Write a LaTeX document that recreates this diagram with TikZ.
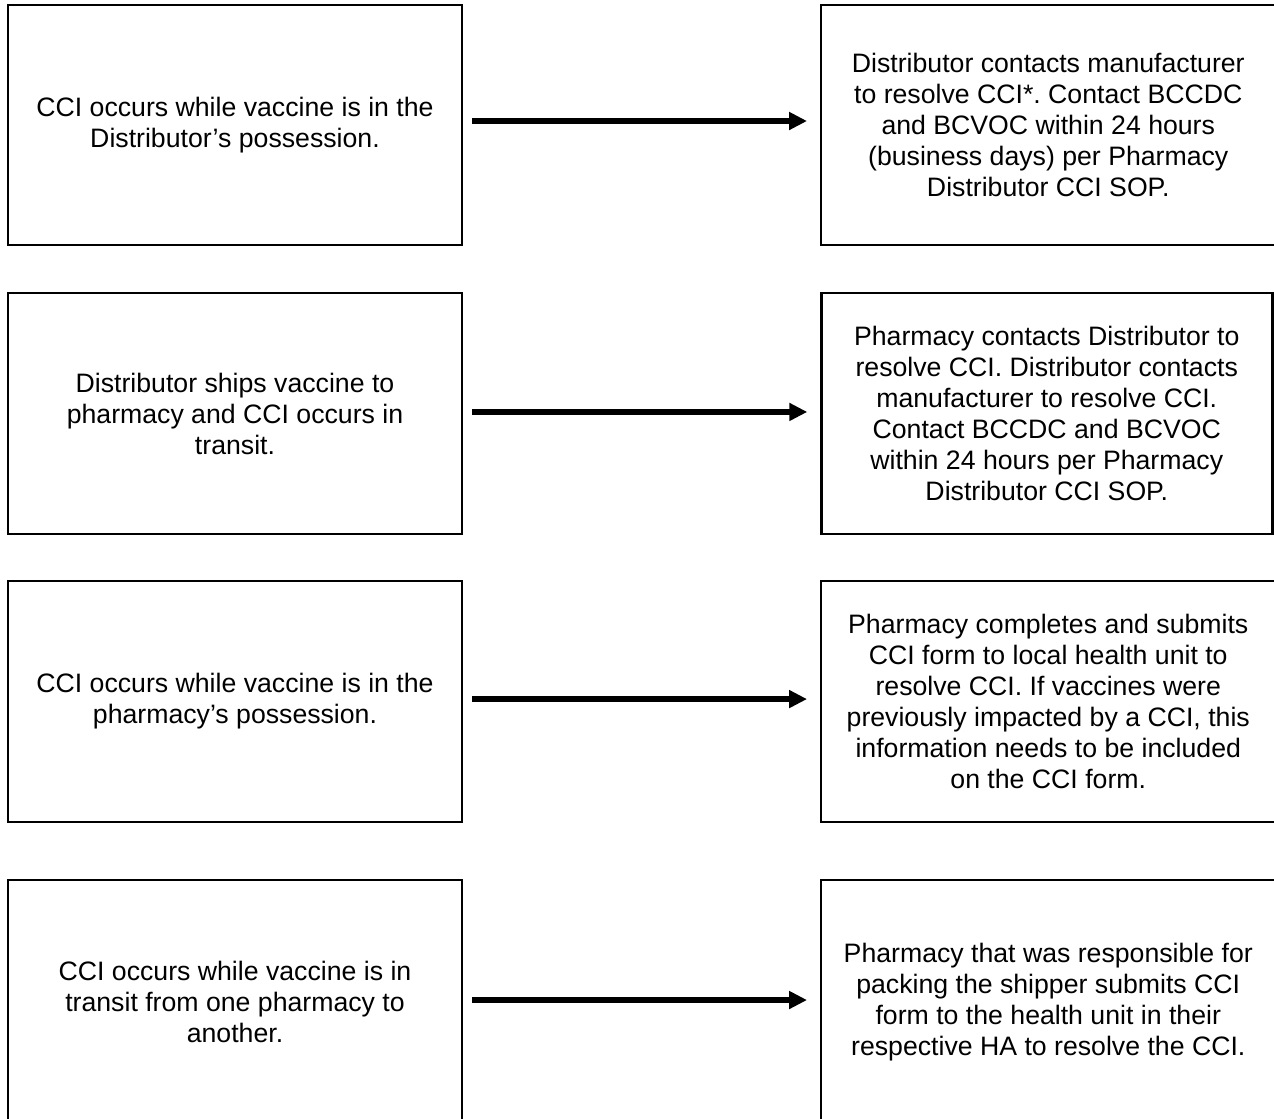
\documentclass[tikz,border=0pt]{standalone}
\usepackage{fontspec}
\setmainfont{Liberation Sans}
\usetikzlibrary{arrows.meta}
\frenchspacing
\begin{document}
\begin{tikzpicture}[x=0.45pt,y=-0.45pt,
  box/.style={draw, line width=1.2pt, align=center, inner sep=0pt, outer sep=0pt,
    font=\fontsize{12}{13.95}\selectfont},
  flow/.style={line width=2.8pt, -{Triangle[length=8.1pt,width=7.7pt]},
    shorten <=4.5pt, shorten >=6.3pt}]
\useasboundingbox (0,0) rectangle (1274,1118);
\clip (0,0) rectangle (1274,1118);
% left boxes
\node[box, minimum width=204.3pt, minimum height=108pt] (L1) at (235,125)
  {CCI occurs while vaccine is in the\\Distributor’s possession.};
\node[box, minimum width=204.3pt, minimum height=108.45pt] (L2) at (235,413.5)
  {Distributor ships vaccine to\\pharmacy and CCI occurs in\\transit.};
\node[box, minimum width=204.3pt, minimum height=108.45pt] (L3) at (235,701.5)
  {CCI occurs while vaccine is in the\\pharmacy’s possession.};
\node[box, minimum width=204.3pt, minimum height=109.8pt] (L4) at (235,1002)
  {CCI occurs while vaccine is in\\transit from one pharmacy to\\another.};
% right boxes
\node[box, minimum width=204.5pt, minimum height=108pt] (R1) at (1048.25,125)
  {Distributor contacts manufacturer\\to resolve CCI*. Contact BCCDC\\and BCVOC within 24 hours\\(business days) per Pharmacy\\Distributor CCI SOP.};
\node[box, minimum width=202.95pt, minimum height=108.45pt] (R2) at (1046.75,413.5)
  {Pharmacy contacts Distributor to\\resolve CCI. Distributor contacts\\manufacturer to resolve CCI.\\Contact BCCDC and BCVOC\\within 24 hours per Pharmacy\\Distributor CCI SOP.};
\node[box, minimum width=204.5pt, minimum height=108.45pt] (R3) at (1048.25,701.5)
  {Pharmacy completes and submits\\CCI form to local health unit to\\resolve CCI. If vaccines were\\previously impacted by a CCI, this\\information needs to be included\\on the CCI form.};
\node[box, minimum width=204.5pt, minimum height=109.8pt] (R4) at (1048.25,1002)
  {Pharmacy that was responsible for\\packing the shipper submits CCI\\form to the health unit in their\\respective HA to resolve the CCI.};
% arrows
\draw[flow] ([yshift=1.8pt]L1.east) -- ([yshift=1.8pt]R1.west);
\draw[flow] ([yshift=0.7pt]L2.east) -- ([yshift=0.7pt]R2.west);
\draw[flow] ([yshift=1.1pt]L3.east) -- ([yshift=1.1pt]R3.west);
\draw[flow] ([yshift=0.9pt]L4.east) -- ([yshift=0.9pt]R4.west);
\end{tikzpicture}
\end{document}
